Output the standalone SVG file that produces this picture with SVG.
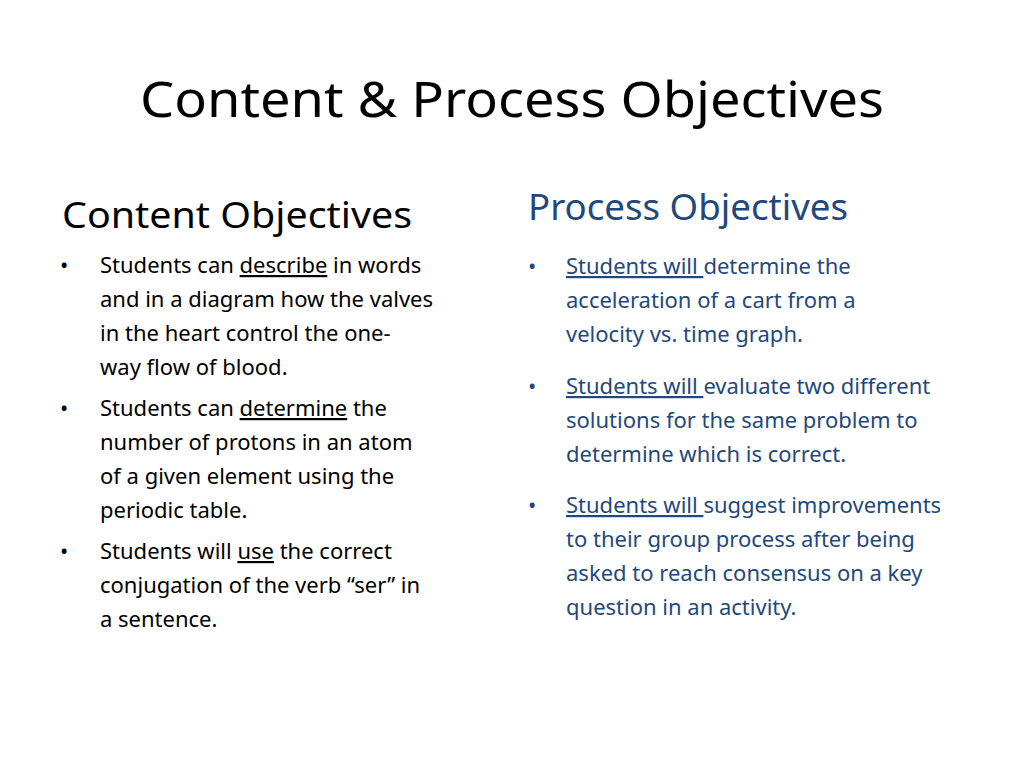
<svg xmlns="http://www.w3.org/2000/svg" width="1024" height="768" viewBox="0 0 1024 768">
<style>
text{font-family:"Noto Sans","Open Sans",sans-serif;}
.t{font-size:50px;fill:#000}
.h{font-size:36px;fill:#000}
.hb{font-size:36px;fill:#1F497D}
.b{font-size:22px;fill:#000}
.r{font-size:22px;fill:#1F497D}
.u{text-decoration:underline}
</style>
<rect width="1024" height="768" fill="#fff"/>
<text class="t" x="140" y="117" textLength="744" lengthAdjust="spacingAndGlyphs">Content &amp; Process Objectives</text>
<g id="content">
<text class="h" x="62" y="228" textLength="350" lengthAdjust="spacingAndGlyphs">Content Objectives</text>
<text class="b" x="60" y="273">•</text>
<text class="b" x="100" y="273">Students can <tspan class="u">describe</tspan> in words</text>
<text class="b" x="100" y="307">and in a diagram how the valves</text>
<text class="b" x="100" y="341">in the heart control the one-</text>
<text class="b" x="100" y="375">way flow of blood.</text>
<text class="b" x="60" y="416">•</text>
<text class="b" x="100" y="416">Students can <tspan class="u">determine</tspan> the</text>
<text class="b" x="100" y="450">number of protons in an atom</text>
<text class="b" x="100" y="484">of a given element using the</text>
<text class="b" x="100" y="518">periodic table.</text>
<text class="b" x="60" y="559">•</text>
<text class="b" x="100" y="559">Students will <tspan class="u">use</tspan> the correct</text>
<text class="b" x="100" y="593">conjugation of the verb “ser” in</text>
<text class="b" x="100" y="627">a sentence.</text>
</g>
<g id="process">
<text class="hb" x="528" y="220" textLength="320" lengthAdjust="spacingAndGlyphs">Process Objectives</text>
<text class="r" x="528" y="274">•</text>
<text class="r" x="566" y="274"><tspan class="u">Students will </tspan>determine the</text>
<text class="r" x="566" y="308">acceleration of a cart from a</text>
<text class="r" x="566" y="342">velocity vs. time graph.</text>
<text class="r" x="528" y="394">•</text>
<text class="r" x="566" y="394"><tspan class="u">Students will </tspan>evaluate two different</text>
<text class="r" x="566" y="428">solutions for the same problem to</text>
<text class="r" x="566" y="462">determine which is correct.</text>
<text class="r" x="528" y="513">•</text>
<text class="r" x="566" y="513"><tspan class="u">Students will </tspan>suggest improvements</text>
<text class="r" x="566" y="547">to their group process after being</text>
<text class="r" x="566" y="581">asked to reach consensus on a key</text>
<text class="r" x="566" y="615">question in an activity.</text>
</g>
</svg>
